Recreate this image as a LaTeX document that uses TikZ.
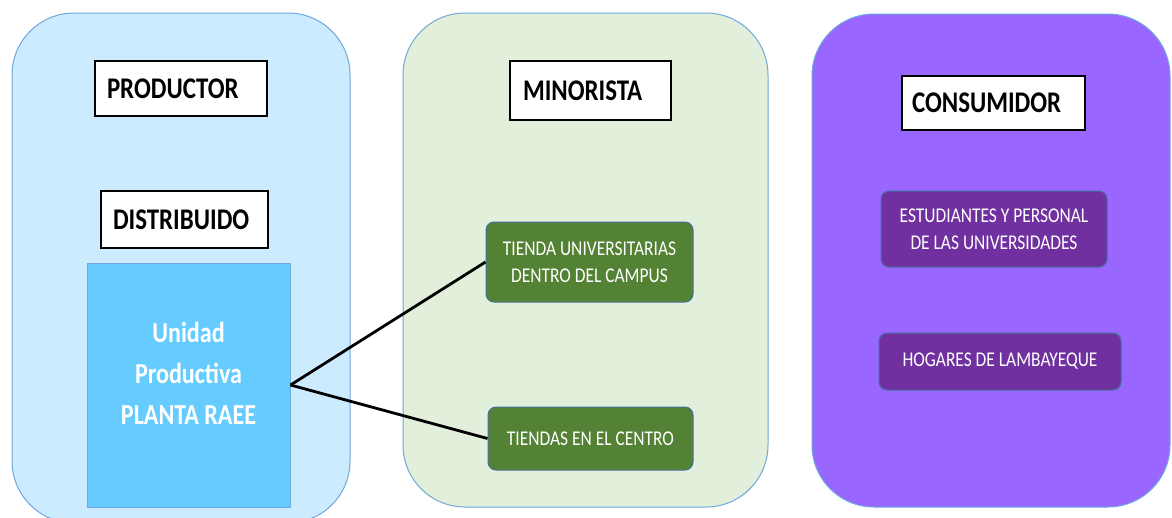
\documentclass[tikz,border=0pt]{standalone}
\usepackage{fontspec}
\setmainfont{Carlito}[FakeStretch=0.83]
\usepackage{tikz}

\definecolor{prodfill}{HTML}{CCEBFF}
\definecolor{minfill}{HTML}{E2EFDA}
\definecolor{consfill}{HTML}{9966FF}
\definecolor{paneledge}{HTML}{6FA8DC}
\definecolor{plantafill}{HTML}{66CCFF}
\definecolor{tiendafill}{HTML}{548235}
\definecolor{hogarfill}{HTML}{7030A0}
\definecolor{boxedge}{HTML}{41719C}

\tikzset{
  panel/.style = {draw = paneledge, line width = 1pt, rounded corners = 62pt},
  titlebox/.style = {draw, fill = white, line width = 1.2pt, align = left,
    inner xsep = 12pt, font = \bfseries\fontsize{30}{34}\selectfont},
  greenbox/.style = {draw = boxedge, fill = tiendafill, rounded corners = 8pt,
    text = white, align = center, font = \fontsize{21}{27}\selectfont},
  purplebox/.style = {greenbox, fill = hogarfill}
}

\begin{document}
\begin{tikzpicture}[x = 1pt, y = -1pt, line width = 2.8pt]
\useasboundingbox (0,0) rectangle (1172,517);
\node[panel, fill = prodfill, minimum width = 338pt, minimum height = 510pt] (prod) at (181,268) {};
\node[panel, fill = minfill, minimum width = 365pt, minimum height = 494pt] (mino) at (585.5,260) {};
\node[panel, fill = consfill, minimum width = 358pt, minimum height = 493pt] (cons) at (991,260.5) {};
\draw (181,88.5) node[titlebox, text width = 148pt, minimum height = 55pt](productor){PRODUCTOR}
    (184.5,219.5) node[titlebox, text width = 143pt, minimum height = 57pt](distribuido){DISTRIBUIDO}
    (590.5,90.5) node[titlebox, text width = 135pt, inner xsep = 13pt, minimum height = 59pt](minorista){MINORISTA}
    (993.5,103) node[titlebox, text width = 163pt, inner xsep = 10pt, minimum height = 54pt](consumidor){CONSUMIDOR};
\node[draw = paneledge, fill = plantafill, line width = 1pt, minimum width = 203pt, minimum height = 244pt,
  label = {[yshift = 12pt, text = white, align = center, font = \bfseries\fontsize{29}{41}\selectfont]center:{Unidad\\Productiva\\PLANTA RAEE}}]
  (planta) at (188.5,385) {};
\draw (589.5,262) node[greenbox, line width = 1pt, minimum width = 207pt, minimum height = 80pt](tiendauni){TIENDA UNIVERSITARIAS\\DENTRO DEL CAMPUS}
    (590.5,438.5) node[greenbox, line width = 1pt, minimum width = 205pt, minimum height = 63pt](tiendacentro){TIENDAS EN EL CENTRO}
    (994,229) node[purplebox, line width = 1pt, minimum width = 226pt, minimum height = 76pt](estudiantes){ESTUDIANTES Y PERSONAL\\DE LAS UNIVERSIDADES}
    (1000,361.5) node[purplebox, line width = 1pt, minimum width = 242pt, minimum height = 57pt](hogares){HOGARES DE LAMBAYEQUE};
\draw [-] (planta.east) -- (tiendauni.west);
\draw [-] (planta.east) -- (tiendacentro.west);
\end{tikzpicture}
\end{document}
